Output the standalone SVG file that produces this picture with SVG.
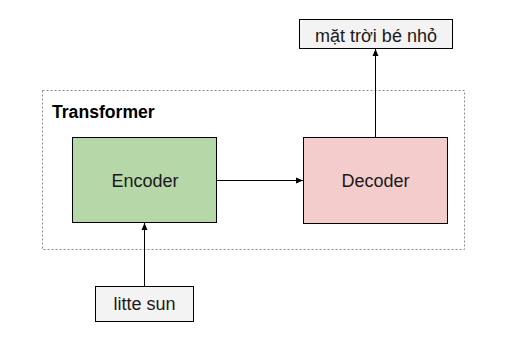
<svg xmlns="http://www.w3.org/2000/svg" width="528" height="342" viewBox="0 0 528 342">
  <style>
    .box { stroke: #000; stroke-width: 1; }
    .lbl { font-family: "Liberation Sans", Arial, sans-serif; font-size: 18px; fill: #1a1a1a; text-anchor: middle; }
    .edge { stroke: #000; stroke-width: 1; fill: none; marker-end: url(#arrow); }
  </style>
  <defs>
    <marker id="arrow" viewBox="0 0 8 8" refX="7" refY="4" markerWidth="8" markerHeight="8" markerUnits="userSpaceOnUse" orient="auto">
      <path d="M0,1 L7,4 L0,7 Z" fill="#000"/>
    </marker>
  </defs>
  <rect width="528" height="342" fill="#fff"/>

  <!-- dashed container -->
  <g id="transformer">
    <rect x="42.5" y="90.5" width="422" height="159" fill="none" stroke="#8c8c8c" stroke-width="1" stroke-dasharray="2,2"/>
    <text x="52" y="117.5" font-family="Liberation Sans, Arial, sans-serif" font-size="17.6" font-weight="bold" fill="#000">Transformer</text>
  </g>

  <g id="encoder">
    <rect class="box" x="72.5" y="137.5" width="144" height="85" fill="#b6d7a8"/>
    <text class="lbl" x="145" y="187.3">Encoder</text>
  </g>

  <g id="decoder">
    <rect class="box" x="303.5" y="137.5" width="144" height="86" fill="#f4cccc"/>
    <text class="lbl" x="375.5" y="187.3">Decoder</text>
  </g>

  <g id="output">
    <rect class="box" x="299.5" y="19.5" width="153" height="29" fill="#f3f3f3"/>
    <text class="lbl" x="376" y="41.6">mặt trời bé nhỏ</text>
  </g>

  <g id="input">
    <rect class="box" x="95.5" y="286.5" width="98" height="35" fill="#f3f3f3"/>
    <text class="lbl" x="144.5" y="310">litte sun</text>
  </g>

  <g id="connectors">
    <line class="edge" x1="216.5" y1="180.5" x2="303" y2="180.5"/>
    <line class="edge" x1="144.5" y1="286" x2="144.5" y2="223"/>
    <line class="edge" x1="375.5" y1="137" x2="375.5" y2="49"/>
  </g>
</svg>
